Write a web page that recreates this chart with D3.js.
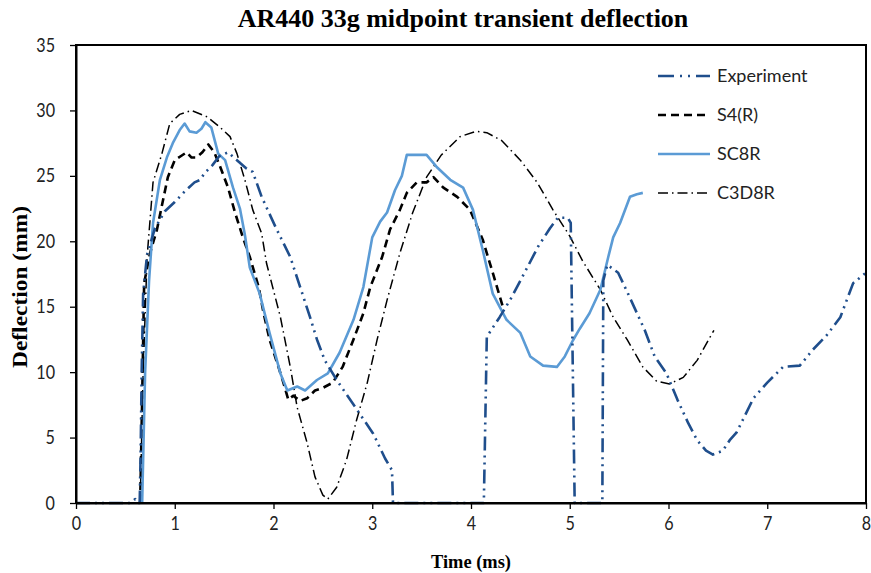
<!DOCTYPE html>
<html>
<head>
<meta charset="utf-8">
<script src="https://cdn.jsdelivr.net/npm/d3@7"></script>
<style>
  body { margin: 0; background: #fff; }
  svg { display: block; }
</style>
</head>
<body>
<div id="chart"></div>
<script>
// Series (time in ms, deflection in mm)
const expTime = [0, 0.3, 0.55, 0.6, 0.62, 0.645, 0.655, 0.665, 0.68, 0.72, 0.8, 0.9, 1.0, 1.1, 1.2, 1.26, 1.3, 1.38, 1.45, 1.54, 1.63, 1.72, 1.79, 1.88, 2.02, 2.17, 2.27, 2.37, 2.44, 2.52, 2.64, 2.83, 3.01, 3.13, 3.2, 3.21, 3.6, 4.13, 4.16, 4.29, 4.41, 4.57, 4.68, 4.8, 4.88, 4.98, 5.01, 5.05, 5.2, 5.33, 5.34, 5.38, 5.49, 5.59, 5.76, 5.86, 5.98, 6.09, 6.2, 6.29, 6.38, 6.45, 6.55, 6.62, 6.69, 6.86, 7.0, 7.16, 7.33, 7.46, 7.6, 7.74, 7.87, 8.0];
const expDefl = [0, 0, 0, 0.3, 0, 0, 4, 10, 16, 19, 21, 22.3, 23, 23.8, 24.5, 24.7, 25.2, 25.8, 26.5, 26.8, 26.2, 25.6, 25.3, 23.4, 21.1, 18.8, 16.5, 14.2, 12.5, 10.9, 9.4, 7.3, 5.3, 3.4, 2.5, 0, 0, 0, 12.7, 14.2, 15.7, 18, 19.6, 21, 21.8, 21.8, 21.4, 0, 0, 0, 17, 18.2, 17.6, 16.0, 13.2, 11.2, 9.9, 7.9, 6.1, 4.8, 4.0, 3.7, 4.0, 4.8, 5.4, 8.0, 9.2, 10.4, 10.5, 11.7, 12.8, 14.2, 16.8, 17.6];

const s4Time = [0.65, 0.67, 0.69, 0.75, 0.82, 0.88, 0.93, 1.0, 1.06, 1.12, 1.17, 1.22, 1.28, 1.34, 1.4, 1.46, 1.54, 1.61, 1.69, 1.76, 1.85, 1.9, 1.96, 2.05, 2.1, 2.15, 2.2, 2.27, 2.34, 2.42, 2.5, 2.6, 2.7, 2.81, 2.91, 2.98, 3.1, 3.18, 3.28, 3.35, 3.45, 3.55, 3.62, 3.72, 3.86, 3.99, 4.12, 4.22, 4.33];
const s4Defl = [0, 8, 16.8, 19.1, 20.9, 23.1, 24.9, 26.2, 26.5, 26.8, 26.4, 26.4, 26.8, 27.4, 26.8, 25.7, 24.1, 22.2, 20.3, 18.8, 16.5, 14.5, 12.5, 10.4, 9.2, 7.9, 8.2, 7.8, 8.0, 8.6, 8.8, 9.2, 10.4, 12.5, 14.5, 16.5, 18.8, 20.9, 22.4, 23.7, 24.5, 24.5, 24.9, 24.1, 23.4, 22.4, 20.1, 17.6, 14.8];

const sc8Time = [0.67, 0.7, 0.74, 0.78, 0.85, 0.92, 0.98, 1.05, 1.1, 1.15, 1.22, 1.27, 1.31, 1.37, 1.44, 1.51, 1.59, 1.66, 1.71, 1.76, 1.86, 1.96, 2.07, 2.14, 2.24, 2.32, 2.44, 2.55, 2.67, 2.81, 2.91, 3.0, 3.08, 3.15, 3.23, 3.3, 3.35, 3.45, 3.55, 3.65, 3.79, 3.92, 4.02, 4.12, 4.22, 4.36, 4.5, 4.6, 4.73, 4.87, 4.95, 5.03, 5.1, 5.2, 5.31, 5.39, 5.44, 5.51, 5.61, 5.68, 5.74];
const sc8Defl = [0, 10, 17, 21.4, 24.7, 26.4, 27.5, 28.5, 29.0, 28.4, 28.3, 28.6, 29.1, 28.7, 26.7, 26.2, 24.1, 22.5, 20.5, 18.0, 16.0, 13.0, 9.9, 8.6, 8.9, 8.6, 9.4, 9.9, 11.5, 14.0, 16.5, 20.3, 21.5, 22.2, 23.9, 25.0, 26.6, 26.6, 26.6, 25.7, 24.7, 24.1, 22.4, 19.3, 16.0, 14.0, 13.0, 11.2, 10.5, 10.4, 11.2, 12.4, 13.3, 14.5, 16.3, 18.8, 20.3, 21.4, 23.4, 23.6, 23.7];

const c3Time = [0.65, 0.68, 0.72, 0.78, 0.87, 0.95, 1.05, 1.17, 1.33, 1.46, 1.56, 1.63, 1.71, 1.79, 1.88, 1.93, 2.07, 2.17, 2.24, 2.34, 2.42, 2.5, 2.55, 2.64, 2.74, 2.84, 2.95, 3.05, 3.15, 3.28, 3.41, 3.55, 3.7, 3.89, 4.05, 4.16, 4.31, 4.5, 4.67, 4.83, 5.0, 5.13, 5.31, 5.44, 5.58, 5.74, 5.88, 6.01, 6.15, 6.29, 6.46];
const c3Defl = [0, 10, 18.8, 24.5, 26.7, 29.0, 29.7, 30.0, 29.5, 28.7, 28.0, 26.7, 24.7, 22.4, 20.6, 18.3, 14.2, 10.4, 7.3, 4.6, 2.0, 0.6, 0.3, 1.2, 3.3, 6.3, 9.2, 12.5, 15.5, 19.1, 22.2, 24.9, 26.6, 28.0, 28.4, 28.3, 27.7, 26.2, 24.5, 22.4, 20.4, 18.5, 16.3, 14.2, 12.5, 10.4, 9.3, 9.1, 9.6, 10.9, 13.2];

const xTicks = [0, 1, 2, 3, 4, 5, 6, 7, 8];
const yTicks = [0, 5, 10, 15, 20, 25, 30, 35];
const seriesNames = ['Experiment', 'S4(R)', 'SC8R', 'C3D8R'];

const W = 871, H = 573;
const margin = { top: 45, right: 5, bottom: 70, left: 76 };
const iw = W - margin.left - margin.right;
const ih = H - margin.top - margin.bottom;

const svg = d3.select('#chart').append('svg')
  .attr('width', W)
  .attr('height', H);

const x = d3.scaleLinear().domain([0, 8]).range([0, iw]);
const y = d3.scaleLinear().domain([0, 35]).range([ih, 0]);

const g = svg.append('g').attr('transform', `translate(${margin.left},${margin.top})`);

// narrow the text a bit (the reference font is a narrow one)
const squeeze = (sel, k) => sel.each(function () {
  const len = this.getComputedTextLength();
  d3.select(this).attr('textLength', len * k).attr('lengthAdjust', 'spacingAndGlyphs');
});

// series styling
const styles = [
  { color: '#1f4e8c', width: 2.6, dash: '14,5,2,5,2,5' },
  { color: '#000000', width: 2.6, dash: '8,5' },
  { color: '#5b9bd5', width: 2.6, dash: null },
  { color: '#000000', width: 1.5, dash: '10,4,1.5,4' }
];
const series = [
  d3.zip(expTime, expDefl),
  d3.zip(s4Time, s4Defl),
  d3.zip(sc8Time, sc8Defl),
  d3.zip(c3Time, c3Defl)
];

const line = d3.line()
  .x(d => x(d[0]))
  .y(d => y(d[1]));

// C3D8R, S4R, SC8R, then Experiment on top
[3, 1, 2, 0].forEach(i => {
  g.append('path')
    .datum(series[i])
    .attr('fill', 'none')
    .attr('stroke', styles[i].color)
    .attr('stroke-width', styles[i].width)
    .attr('stroke-dasharray', styles[i].dash)
    .attr('stroke-linejoin', 'round')
    .attr('d', line);
});

// plot frame
g.append('rect')
  .attr('width', iw)
  .attr('height', ih)
  .attr('fill', 'none')
  .attr('stroke', '#000')
  .attr('stroke-width', 2);

// axes
const xAxis = g.append('g')
  .attr('transform', `translate(0,${ih})`)
  .call(d3.axisBottom(x).tickValues(xTicks).tickSize(6).tickSizeOuter(0).tickFormat(d3.format('d')));
const yAxis = g.append('g')
  .call(d3.axisLeft(y).tickValues(yTicks).tickSize(6).tickSizeOuter(0).tickFormat(d3.format('d')));

[xAxis, yAxis].forEach(a => {
  a.select('.domain').attr('stroke', '#000').attr('stroke-width', 2);
  a.selectAll('.tick line').attr('stroke', '#000').attr('stroke-width', 1.3);
  a.selectAll('.tick text')
    .attr('fill', '#222')
    .style('font-family', 'Lato, "Open Sans", sans-serif')
    .style('font-size', '19px');
});
xAxis.selectAll('.tick text').attr('y', 14);
yAxis.selectAll('.tick text').attr('x', -21);
squeeze(xAxis.selectAll('.tick text'), 0.85);
squeeze(yAxis.selectAll('.tick text'), 0.85);

// title
const title = svg.append('text')
  .attr('x', 463)
  .attr('y', 27)
  .attr('text-anchor', 'middle')
  .style('font-family', '"Liberation Serif", "Times New Roman", serif')
  .style('font-weight', 'bold')
  .style('font-size', '26px')
  .text('AR440 33g midpoint transient deflection');

// axis titles
svg.append('text')
  .attr('x', 471)
  .attr('y', 568)
  .attr('text-anchor', 'middle')
  .style('font-family', '"Liberation Serif", "Times New Roman", serif')
  .style('font-weight', 'bold')
  .style('font-size', '19px')
  .attr('textLength', 80)
  .attr('lengthAdjust', 'spacingAndGlyphs')
  .text('Time (ms)');

svg.append('text')
  .attr('transform', 'translate(27,287) rotate(-90)')
  .attr('text-anchor', 'middle')
  .style('font-family', '"Liberation Serif", "Times New Roman", serif')
  .style('font-weight', 'bold')
  .style('font-size', '21px')
  .attr('textLength', 162)
  .attr('lengthAdjust', 'spacingAndGlyphs')
  .text('Deflection (mm)');

// legend
const legend = svg.append('g').attr('transform', 'translate(658,76)');
seriesNames.forEach((name, i) => {
  const row = legend.append('g').attr('transform', `translate(0,${i * 39})`);
  row.append('line')
    .attr('x1', 0).attr('x2', 52)
    .attr('stroke', styles[i].color)
    .attr('stroke-width', styles[i].width)
    .attr('stroke-dasharray', i === 0 ? '16,6,2,6,2,6' : styles[i].dash);
  row.append('text')
    .attr('x', 59)
    .attr('dy', '0.35em')
    .attr('fill', '#222')
    .style('font-family', 'Lato, "Open Sans", sans-serif')
    .style('font-size', '18px')
    .text(name);
});
</script>
</body>
</html>
